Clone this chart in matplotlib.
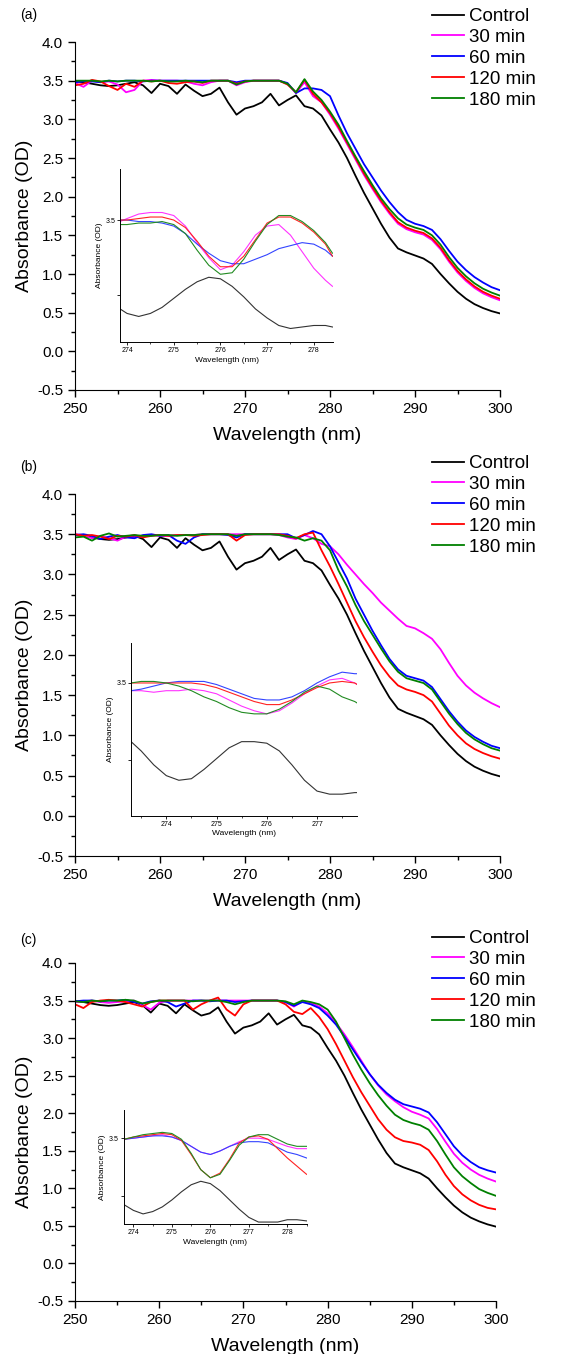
import numpy as np
import matplotlib
matplotlib.use("Agg")
import matplotlib.pyplot as plt
from matplotlib.ticker import MultipleLocator

plt.rcParams["font.family"] = ["Liberation Sans", "DejaVu Sans"]
plt.rcParams["axes.unicode_minus"] = False

LABELS = ["Control", "30 min", "60 min", "120 min", "180 min"]
COLORS = ["#000000", "#ff00ff", "#0000ff", "#ff0000", "#008000"]
INSET_COLORS = ["#333333", "#ff33ff", "#3344ff", "#ff2222", "#228b22"]

WL = np.arange(250, 301)

# control spectrum (same in all panels)
CONTROL = [3.49, 3.48, 3.46, 3.44, 3.43, 3.44, 3.46, 3.48, 3.44, 3.34,
           3.46, 3.43, 3.33, 3.45, 3.37, 3.30, 3.33, 3.41, 3.22, 3.06,
           3.14, 3.17, 3.22, 3.33, 3.18, 3.25, 3.31, 3.17, 3.14, 3.05,
           2.87, 2.70, 2.50, 2.27, 2.05, 1.85, 1.65, 1.47, 1.33, 1.28,
           1.24, 1.20, 1.13, 1.00, 0.88, 0.77, 0.68, 0.61, 0.56, 0.52, 0.49]

# (a)
A_30 = [3.47, 3.42, 3.50, 3.48, 3.49, 3.45, 3.35, 3.38, 3.50, 3.51,
        3.50, 3.50, 3.50, 3.49, 3.46, 3.44, 3.48, 3.50, 3.50, 3.44,
        3.48, 3.50, 3.50, 3.50, 3.50, 3.46, 3.34, 3.48, 3.30, 3.22,
        3.06, 2.88, 2.68, 2.48, 2.28, 2.10, 1.93, 1.78, 1.65, 1.58,
        1.54, 1.51, 1.44, 1.32, 1.16, 1.02, 0.91, 0.82, 0.75, 0.70, 0.66]
A_60 = [3.48, 3.49, 3.49, 3.48, 3.50, 3.49, 3.50, 3.50, 3.49, 3.50,
        3.50, 3.50, 3.50, 3.50, 3.50, 3.50, 3.50, 3.50, 3.50, 3.48,
        3.50, 3.50, 3.50, 3.50, 3.50, 3.47, 3.34, 3.40, 3.40, 3.38,
        3.30, 3.05, 2.82, 2.62, 2.42, 2.25, 2.08, 1.93, 1.80, 1.70,
        1.65, 1.62, 1.57, 1.45, 1.30, 1.16, 1.05, 0.96, 0.89, 0.83, 0.79]
A_120 = [3.44, 3.46, 3.51, 3.49, 3.43, 3.38, 3.46, 3.42, 3.50, 3.49,
         3.50, 3.47, 3.46, 3.48, 3.49, 3.47, 3.50, 3.50, 3.50, 3.46,
         3.49, 3.50, 3.50, 3.50, 3.50, 3.45, 3.35, 3.51, 3.33, 3.22,
         3.08, 2.90, 2.70, 2.50, 2.30, 2.12, 1.95, 1.80, 1.67, 1.60,
         1.56, 1.53, 1.46, 1.34, 1.18, 1.04, 0.93, 0.84, 0.77, 0.72, 0.68]
A_180 = [3.50, 3.50, 3.50, 3.49, 3.50, 3.49, 3.50, 3.50, 3.50, 3.49,
         3.50, 3.49, 3.49, 3.50, 3.49, 3.48, 3.50, 3.50, 3.50, 3.45,
         3.49, 3.50, 3.50, 3.50, 3.50, 3.46, 3.35, 3.52, 3.36, 3.25,
         3.10, 2.93, 2.72, 2.52, 2.33, 2.15, 1.98, 1.84, 1.72, 1.64,
         1.60, 1.57, 1.50, 1.38, 1.22, 1.08, 0.97, 0.88, 0.81, 0.76, 0.72]

# (b)
B_30 = [3.50, 3.49, 3.45, 3.48, 3.45, 3.42, 3.47, 3.46, 3.48, 3.49,
        3.48, 3.48, 3.49, 3.49, 3.49, 3.50, 3.50, 3.50, 3.50, 3.50,
        3.50, 3.50, 3.50, 3.50, 3.49, 3.46, 3.44, 3.49, 3.45, 3.38,
        3.35, 3.25, 3.12, 3.00, 2.88, 2.77, 2.65, 2.55, 2.45, 2.36,
        2.33, 2.27, 2.20, 2.07, 1.90, 1.74, 1.62, 1.53, 1.46, 1.40, 1.35]
B_60 = [3.49, 3.50, 3.48, 3.44, 3.47, 3.49, 3.46, 3.45, 3.49, 3.50,
        3.48, 3.49, 3.42, 3.38, 3.46, 3.50, 3.50, 3.50, 3.49, 3.46,
        3.50, 3.50, 3.50, 3.50, 3.50, 3.50, 3.45, 3.49, 3.54, 3.50,
        3.35, 3.15, 2.95, 2.70, 2.50, 2.30, 2.12, 1.95, 1.82, 1.74,
        1.71, 1.68, 1.60, 1.45, 1.30, 1.17, 1.06, 0.98, 0.92, 0.87, 0.84]
B_120 = [3.50, 3.48, 3.49, 3.47, 3.44, 3.48, 3.47, 3.49, 3.46, 3.48,
         3.49, 3.48, 3.49, 3.49, 3.48, 3.49, 3.50, 3.50, 3.50, 3.42,
         3.49, 3.50, 3.50, 3.50, 3.50, 3.48, 3.45, 3.50, 3.52, 3.30,
         3.10, 2.88, 2.65, 2.42, 2.22, 2.04, 1.87, 1.73, 1.62, 1.57,
         1.54, 1.50, 1.42, 1.27, 1.12, 1.00, 0.90, 0.83, 0.78, 0.74, 0.71]
B_180 = [3.46, 3.47, 3.42, 3.48, 3.51, 3.47, 3.48, 3.49, 3.48, 3.48,
         3.49, 3.49, 3.48, 3.49, 3.49, 3.50, 3.50, 3.50, 3.50, 3.48,
         3.50, 3.50, 3.50, 3.50, 3.49, 3.47, 3.46, 3.42, 3.45, 3.42,
         3.30, 3.05, 2.85, 2.62, 2.42, 2.25, 2.08, 1.92, 1.79, 1.71,
         1.68, 1.65, 1.57, 1.42, 1.27, 1.14, 1.03, 0.95, 0.89, 0.84, 0.81]

# (c)
C_30 = [3.48, 3.49, 3.50, 3.48, 3.47, 3.48, 3.49, 3.50, 3.44, 3.38,
        3.47, 3.50, 3.50, 3.50, 3.50, 3.50, 3.50, 3.50, 3.50, 3.50,
        3.50, 3.50, 3.50, 3.50, 3.50, 3.48, 3.42, 3.49, 3.47, 3.42,
        3.33, 3.20, 3.05, 2.88, 2.70, 2.52, 2.37, 2.25, 2.16, 2.08,
        2.02, 1.98, 1.93, 1.79, 1.62, 1.46, 1.34, 1.25, 1.18, 1.13, 1.09]
C_60 = [3.49, 3.50, 3.50, 3.49, 3.50, 3.50, 3.51, 3.48, 3.46, 3.49,
        3.50, 3.48, 3.42, 3.46, 3.50, 3.50, 3.49, 3.50, 3.50, 3.48,
        3.49, 3.50, 3.50, 3.50, 3.50, 3.48, 3.43, 3.48, 3.45, 3.40,
        3.30, 3.18, 3.02, 2.85, 2.68, 2.52, 2.38, 2.27, 2.18, 2.12,
        2.09, 2.06, 2.01, 1.88, 1.72, 1.56, 1.44, 1.35, 1.28, 1.24, 1.21]
C_120 = [3.45, 3.40, 3.48, 3.50, 3.51, 3.50, 3.48, 3.45, 3.42, 3.48,
         3.50, 3.50, 3.50, 3.50, 3.38, 3.45, 3.50, 3.54, 3.38, 3.30,
         3.45, 3.50, 3.50, 3.50, 3.50, 3.45, 3.35, 3.32, 3.40, 3.28,
         3.12, 2.92, 2.70, 2.48, 2.28, 2.10, 1.92, 1.78, 1.68, 1.63,
         1.61, 1.58, 1.51, 1.36, 1.18, 1.03, 0.92, 0.84, 0.78, 0.74, 0.72]
C_180 = [3.49, 3.48, 3.50, 3.49, 3.50, 3.50, 3.51, 3.50, 3.46, 3.48,
         3.50, 3.50, 3.50, 3.50, 3.49, 3.50, 3.50, 3.50, 3.48, 3.45,
         3.48, 3.50, 3.50, 3.50, 3.50, 3.49, 3.45, 3.50, 3.48, 3.45,
         3.38, 3.22, 3.00, 2.78, 2.58, 2.40, 2.24, 2.10, 1.98, 1.91,
         1.87, 1.84, 1.78, 1.63, 1.45, 1.28, 1.16, 1.07, 0.99, 0.94, 0.90]

# insets (zoom 274-278 nm)
IA_WL = [273.85, 274.0, 274.25, 274.5, 274.75, 275.0, 275.25, 275.5, 275.75, 276.0,
         276.25, 276.5, 276.75, 277.0, 277.25, 277.5, 277.75, 278.0, 278.25, 278.4]
IA_CTRL = [2.91, 2.88, 2.86, 2.88, 2.92, 2.98, 3.04, 3.09, 3.12, 3.11,
           3.06, 2.99, 2.91, 2.85, 2.80, 2.78, 2.79, 2.80, 2.80, 2.79]
IA_30 = [3.49, 3.51, 3.54, 3.55, 3.55, 3.53, 3.46, 3.35, 3.25, 3.17,
         3.20, 3.29, 3.40, 3.46, 3.47, 3.40, 3.29, 3.18, 3.10, 3.06]
IA_60 = [3.50, 3.50, 3.49, 3.49, 3.48, 3.46, 3.41, 3.34, 3.28, 3.23,
         3.21, 3.21, 3.24, 3.27, 3.31, 3.33, 3.35, 3.34, 3.30, 3.26]
IA_120 = [3.50, 3.50, 3.51, 3.52, 3.52, 3.50, 3.45, 3.36, 3.26, 3.19,
          3.19, 3.26, 3.37, 3.48, 3.52, 3.52, 3.48, 3.42, 3.34, 3.26]
IA_180 = [3.47, 3.47, 3.48, 3.48, 3.49, 3.47, 3.41, 3.30, 3.20, 3.14,
          3.15, 3.24, 3.36, 3.47, 3.53, 3.53, 3.49, 3.43, 3.35, 3.28]

IB_WL = [273.3, 273.5, 273.75, 274.0, 274.25, 274.5, 274.75, 275.0, 275.25, 275.5,
         275.75, 276.0, 276.25, 276.5, 276.75, 277.0, 277.25, 277.5, 277.75, 277.8]
IB_CTRL = [3.12, 3.06, 2.97, 2.90, 2.87, 2.88, 2.94, 3.01, 3.08, 3.12,
           3.12, 3.11, 3.06, 2.97, 2.87, 2.80, 2.78, 2.78, 2.79, 2.79]
IB_30 = [3.45, 3.45, 3.44, 3.45, 3.45, 3.46, 3.45, 3.43, 3.39, 3.35,
         3.32, 3.30, 3.32, 3.37, 3.43, 3.48, 3.52, 3.53, 3.50, 3.49]
IB_60 = [3.45, 3.46, 3.48, 3.50, 3.51, 3.51, 3.51, 3.49, 3.46, 3.43,
         3.40, 3.39, 3.39, 3.41, 3.45, 3.50, 3.54, 3.57, 3.56, 3.56]
IB_120 = [3.50, 3.50, 3.50, 3.50, 3.50, 3.50, 3.49, 3.47, 3.44, 3.41,
          3.38, 3.36, 3.36, 3.39, 3.43, 3.47, 3.50, 3.51, 3.50, 3.49]
IB_180 = [3.50, 3.51, 3.51, 3.50, 3.48, 3.45, 3.41, 3.38, 3.34, 3.31,
          3.30, 3.30, 3.33, 3.38, 3.44, 3.48, 3.46, 3.41, 3.38, 3.37]

IC_WL = [273.75, 274.0, 274.25, 274.5, 274.75, 275.0, 275.25, 275.5, 275.75, 276.0,
         276.25, 276.5, 276.75, 277.0, 277.25, 277.5, 277.75, 278.0, 278.25, 278.5]
IC_CTRL = [2.93, 2.88, 2.85, 2.87, 2.91, 2.97, 3.04, 3.10, 3.13, 3.11,
           3.05, 2.97, 2.89, 2.82, 2.78, 2.78, 2.78, 2.80, 2.80, 2.79]
IC_30 = [3.49, 3.50, 3.51, 3.52, 3.53, 3.51, 3.48, 3.43, 3.38, 3.36,
         3.39, 3.43, 3.47, 3.50, 3.50, 3.49, 3.46, 3.43, 3.41, 3.41]
IC_60 = [3.49, 3.50, 3.51, 3.52, 3.52, 3.51, 3.48, 3.43, 3.38, 3.36,
         3.39, 3.43, 3.46, 3.47, 3.47, 3.46, 3.42, 3.38, 3.36, 3.33]
IC_120 = [3.49, 3.51, 3.52, 3.53, 3.54, 3.53, 3.48, 3.36, 3.23, 3.16,
          3.20, 3.32, 3.46, 3.51, 3.52, 3.49, 3.41, 3.33, 3.26, 3.19]
IC_180 = [3.49, 3.51, 3.53, 3.54, 3.55, 3.54, 3.49, 3.37, 3.23, 3.16,
          3.19, 3.31, 3.44, 3.51, 3.53, 3.53, 3.49, 3.45, 3.43, 3.43]

PANELS = [
    dict(tag="(a)", main=[CONTROL, A_30, A_60, A_120, A_180],
         iwl=IA_WL, ins=[IA_CTRL, IA_30, IA_60, IA_120, IA_180],
         ibox=[255.3, 0.12, 25.1, 2.24], ixlim=(273.85, 278.42),
         iylim=(2.69, 3.84), iyt=[3.0, 3.5], ixt=[274, 275, 276, 277, 278]),
    dict(tag="(b)", main=[CONTROL, B_30, B_60, B_120, B_180],
         iwl=IB_WL, ins=[IB_CTRL, IB_30, IB_60, IB_120, IB_180],
         ibox=[256.6, 0.0, 26.6, 2.15], ixlim=(273.3, 277.8),
         iylim=(2.64, 3.76), iyt=[3.0, 3.5], ixt=[274, 275, 276, 277]),
    dict(tag="(c)", main=[CONTROL, C_30, C_60, C_120, C_180],
         iwl=IC_WL, ins=[IC_CTRL, IC_30, IC_60, IC_120, IC_180],
         ibox=[255.8, 0.52, 21.7, 1.52], ixlim=(273.75, 278.5),
         iylim=(2.76, 3.74), iyt=[3.0, 3.5], ixt=[274, 275, 276, 277, 278]),
]

# axes rectangles in pixels: left, right, top(4.0), bottom(-0.5)
RECTS = [(75, 500, 42, 390), (75, 500, 494, 856), (75, 496, 963, 1301)]
LEG_TOP = [8, 455, 930]
TAG_Y = [15, 467, 940]

W, H = 568, 1354
fig = plt.figure(figsize=(W / 100, H / 100), dpi=100)

for p, (l, r, t, b), lt, ty in zip(PANELS, RECTS, LEG_TOP, TAG_Y):
    ax = fig.add_axes([l / W, 1 - b / H, (r - l) / W, (b - t) / H])
    for y, c, lab in zip(p["main"], COLORS, LABELS):
        ax.plot(WL, y, color=c, lw=1.3, label=lab)
    ax.set_xlim(250, 300)
    ax.set_ylim(-0.5, 4.0)
    for s in ("top", "right"):
        ax.spines[s].set_visible(False)
    ax.xaxis.set_major_locator(MultipleLocator(10))
    ax.xaxis.set_minor_locator(MultipleLocator(5))
    ax.yaxis.set_major_locator(MultipleLocator(0.5))
    ax.yaxis.set_minor_locator(MultipleLocator(0.25))
    ax.tick_params(labelsize=11, length=5, width=1)
    ax.tick_params(which="minor", length=3, width=1)
    ax.set_xlabel("Wavelength (nm)", fontsize=14, labelpad=8)
    ax.set_ylabel("Absorbance (OD)", fontsize=14, labelpad=3)
    ax.legend(loc="upper right", bbox_to_anchor=(536 / W, 1 - lt / H),
              bbox_transform=fig.transFigure, frameon=False, fontsize=13.5,
              handlelength=1.75, handletextpad=0.25, labelspacing=0.2,
              borderaxespad=0, borderpad=0)
    fig.text(20 / W, 1 - ty / H, p["tag"], fontsize=10, va="center")

    ia = ax.inset_axes(p["ibox"], transform=ax.transData)
    for y, c in zip(p["ins"], INSET_COLORS):
        ia.plot(p["iwl"], y, color=c, lw=0.8)
    ia.set_xlim(*p["ixlim"])
    ia.set_ylim(*p["iylim"])
    for s in ("top", "right"):
        ia.spines[s].set_visible(False)
    ia.spines["left"].set_linewidth(0.7)
    ia.spines["bottom"].set_linewidth(0.7)
    ia.set_xticks(p["ixt"])
    ia.xaxis.set_minor_locator(MultipleLocator(0.5))
    ia.set_yticks(p["iyt"])
    ia.set_yticklabels(["", "3.5"])
    ia.tick_params(labelsize=5, length=2, width=0.6, pad=1.5)
    ia.tick_params(which="minor", length=1.2, width=0.5)
    ia.set_xlabel("Wavelength (nm)", fontsize=6, labelpad=2)
    ia.set_ylabel("Absorbance (OD)", fontsize=6, labelpad=2)
    ia.patch.set_alpha(0)

fig.savefig("out.png", dpi=100)
